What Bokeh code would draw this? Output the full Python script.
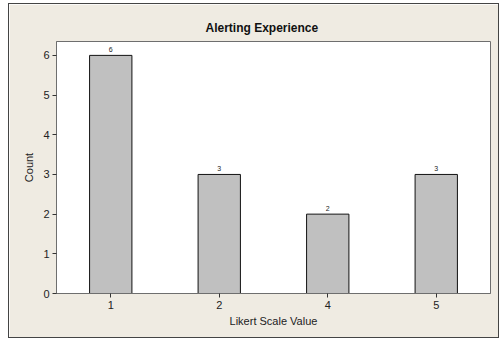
from bokeh.plotting import figure
from bokeh.models import ColumnDataSource, FactorRange, Range1d
from bokeh.embed import file_html
from bokeh.resources import INLINE
from bokeh.core.properties import value

categories = ["1", "2", "4", "5"]
counts = [6, 3, 2, 3]
count_labels = ["6", "3", "2", "3"]

BG = "#EFEBE2"
FONT = "Liberation Sans"

src = ColumnDataSource(data=dict(cat=categories, count=counts, label=count_labels))

p = figure(
    x_range=FactorRange(factors=categories, range_padding=0),
    y_range=Range1d(0, 6.35),
    width=491, height=335,
    output_backend="svg", toolbar_location=None,
    min_border_left=47, min_border_right=10, min_border_top=37, min_border_bottom=46,
)
p.styles = {"border": "1px solid #444444", "box-sizing": "border-box",
            "margin-left": "8px", "margin-top": "3px"}
p.border_fill_color = BG
p.background_fill_color = "white"
p.outline_line_color = "#6E6E6E"
p.outline_line_width = 1

p.title.text = "Alerting Experience"
p.title.align = "left"
p.title.text_font = FONT
p.title.text_font_size = "12px"
p.title.text_font_style = "bold"
p.title.text_color = "#111111"
p.title.offset = 149
p.title.standoff = 14

p.vbar(x="cat", top="count", width=0.39, source=src,
       fill_color="#C0C0C0", line_color="#111111", line_width=1)
p.text(x="cat", y="count", text="label", source=src,
       text_align="center", text_baseline="bottom", y_offset=-3,
       text_font=value(FONT), text_font_size="7px", text_color="#222222")

p.xgrid.visible = False
p.ygrid.visible = False

for ax in (p.xaxis, p.yaxis):
    ax.axis_line_color = "#6E6E6E"
    ax.major_tick_line_color = "#333333"
    ax.major_tick_out = 4
    ax.major_tick_in = 0
    ax.minor_tick_line_color = None
    ax.major_label_text_font = FONT
    ax.major_label_text_font_size = "11px"
    ax.major_label_text_color = "#222222"
    ax.axis_label_text_font = FONT
    ax.axis_label_text_font_size = "11px"
    ax.axis_label_text_font_style = "normal"
    ax.axis_label_text_color = "#222222"

p.xaxis.axis_label = "Likert Scale Value"
p.yaxis.axis_label = "Count"
p.yaxis.ticker = [0, 1, 2, 3, 4, 5, 6]
p.xaxis.major_label_standoff = 3
p.yaxis.major_label_standoff = 3
p.xaxis.axis_label_standoff = 3
p.yaxis.axis_label_standoff = 5

open("out.html", "w").write(file_html(p, INLINE))
